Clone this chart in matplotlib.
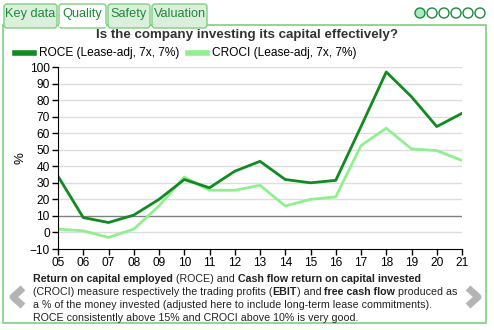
import matplotlib.pyplot as plt
from matplotlib.patches import Rectangle, Circle, FancyBboxPatch

plt.rcParams['font.family'] = ['Liberation Sans', 'DejaVu Sans']

years = ['05', '06', '07', '08', '09', '10', '11', '12', '13', '14', '15', '16', '17', '18', '19', '20', '21']
roce = [34, 9, 6, 10.5, 20, 32, 27, 37, 43, 32, 30, 31.5, 64, 97, 82, 64, 72]
croci = [2, 1, -3, 2, 16, 33.5, 25.5, 25.5, 28.5, 16, 20, 21.5, 52.5, 63, 50.5, 49.5, 43.5]
yticks = list(range(-10, 101, 10))
tabs = ['Key data', 'Quality', 'Safety', 'Valuation']

W, H = 494, 330
fig = plt.figure(figsize=(W / 100, H / 100), dpi=100)

# pixel-space overlay for the page furniture
bg = fig.add_axes([0, 0, 1, 1])
bg.set_xlim(0, W)
bg.set_ylim(H, 0)
bg.axis('off')

green = '#1a8a3a'
border = '#7fcf7f'
bg.add_patch(Rectangle((3, 25), 483, 298, fill=False, ec=border, lw=1.2))
tab_x = [3, 58, 107, 151, 208]
for i, name in enumerate(tabs):
    x0, x1 = tab_x[i], tab_x[i + 1]
    fc = 'white' if name == 'Quality' else '#dcefdc'
    bg.add_patch(FancyBboxPatch((x0 + 1, 4), x1 - x0 - 2, 24, boxstyle='round,pad=0,rounding_size=3',
                                fc=fc, ec=border, lw=1.0))
    bg.text((x0 + x1) / 2, 14, name, ha='center', va='center', fontsize=9.2, color=green)
bg.add_patch(Rectangle((59, 24), 47, 3, fc='white', ec='none'))

for i in range(6):
    bg.add_patch(Circle((420 + 12 * i, 13), 5, fc='#a6ecbf' if i == 0 else 'white', ec=green, lw=1.0))

bg.plot([23, 13, 23], [288, 297, 306], color='#b4b4b4', lw=5, solid_capstyle='butt')
bg.plot([468, 478, 468], [288, 297, 306], color='#b4b4b4', lw=5, solid_capstyle='butt')

bg.text(247, 35, 'Is the company investing its capital effectively?', ha='center', va='center',
        fontsize=9.6, fontweight='bold', color='#333333')

roce_c = '#118a22'
croci_c = '#90f090'
bg.plot([15, 34], [53, 53], color=roce_c, lw=4)
bg.text(39, 53, 'ROCE (Lease-adj, 7x, 7%)', va='center', fontsize=8.6)
bg.plot([188, 207], [53, 53], color=croci_c, lw=4)
bg.text(212, 53, 'CROCI (Lease-adj, 7x, 7%)', va='center', fontsize=8.6)

lines = [
    [('Return on capital employed', 'bold'), (' (ROCE) and ', 'normal'),
     ('Cash flow return on capital invested', 'bold')],
    [('(CROCI) measure respectively the trading profits (', 'normal'), ('EBIT', 'bold'),
     (') and ', 'normal'), ('free cash flow', 'bold'), (' produced as', 'normal')],
    [('a % of the money invested (adjusted here to include long-term lease commitments).', 'normal')],
    [('ROCE consistently above 15% and CROCI above 10% is very good.', 'normal')],
]
for k, parts in enumerate(lines):
    y = 284 + 13 * k
    prev = None
    for txt, wt in parts:
        if prev is None:
            prev = bg.text(33, y, txt, va='bottom', ha='left', fontsize=7.65, fontweight=wt, color='#222222')
        else:
            prev = bg.annotate(txt, xy=(1, 0), xycoords=prev, va='bottom', ha='left',
                               fontsize=7.65, fontweight=wt, color='#222222', annotation_clip=False)

# chart
ax = fig.add_axes([58 / W, 81 / H, 404 / W, 182 / H])
x = list(range(len(years)))
ax.plot(x, croci, color=croci_c, lw=2)
ax.plot(x, roce, color=roce_c, lw=2)
ax.set_xlim(0, len(years) - 1)
ax.set_ylim(-10, 100)
ax.set_yticks(yticks)
ax.set_xticks(x)
ax.set_xticklabels(years)
for v in yticks:
    if v == 10:
        ax.axhline(v, color='#808080', lw=1, zorder=0)
    elif v > -10:
        ax.axhline(v, color='#dddddd', lw=1, zorder=0)
for s in ['top', 'right']:
    ax.spines[s].set_visible(False)
ax.tick_params(labelsize=8.6, length=4, width=1, pad=2)
ax.set_ylabel('%', fontsize=9.5, labelpad=2)
ax.set_facecolor('none')

fig.savefig('out.png', dpi=100)
